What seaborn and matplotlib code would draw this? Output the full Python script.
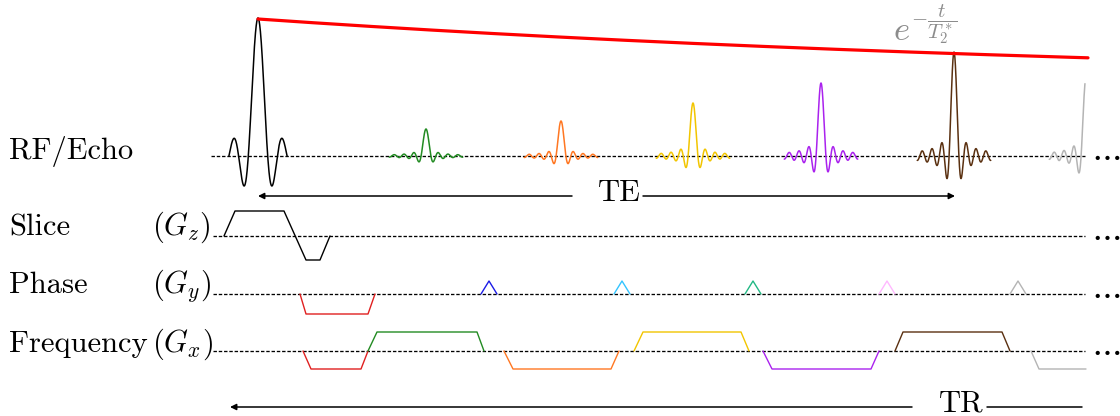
import numpy as np
import pandas as pd
import matplotlib
matplotlib.use("Agg")
import matplotlib.pyplot as plt
import seaborn as sns

# ---------------- data (schematic time / amplitude units) ----------------
row_names = ["RF/Echo", "Slice", "Phase", "Frequency"]
row_axes = ["", r"$(G_z)$", r"$(G_y)$", r"$(G_x)$"]
row_base = [156, 236, 294, 351]

rf_center = 258
rf_amp = 138

echo_centers = [426, 561, 693, 821, 954, 1086]
echo_amps = [27, 35, 53, 73, 104, 78]
echo_colors = ["#228b22", "#ff7722", "#f2c500", "#aa22ee", "#5a3010", "#b4b4b4"]

slice_t = [224, 235, 284, 306, 320, 330]
slice_g = [0, 25, 25, -24, -24, 0]

pe_t = [300, 306, 368, 375]
pe_g = [0, -20, -20, 0]
blip_centers = [489, 622, 753, 887, 1018]
blip_height = 13
blip_colors = ["#1a1ae6", "#33c4ff", "#22b884", "#ffb8ff", "#b4b4b4"]

ro_lobes_t = [[303, 311, 361, 368], [368, 377, 477, 484], [504, 513, 611, 619],
              [634, 643, 741, 749], [763, 772, 871, 879], [895, 903, 1002, 1010],
              [1031, 1039, 1086]]
ro_amps = [-18, 19, -18, 19, -18, 19, -18]
ro_colors = ["#e02020"] + echo_colors

t2_start, t2_end = 258, 1088
t2_tau = 970.0

te_span = [258, 955]
tr_span = [230, 1082]
t_end = 1085

# ---------------- style ----------------
sns.set_theme(style="white")
plt.rcParams["font.family"] = ["cmr10", "DejaVu Serif"]
plt.rcParams["mathtext.fontset"] = "cm"
plt.rcParams["axes.unicode_minus"] = False
plt.rcParams["text.color"] = "black"

fig = plt.figure(figsize=(11.2, 4.16), dpi=100)
ax = fig.add_axes([0, 0, 1, 1])
ax.set_xlim(0, 1120)
ax.set_ylim(416, 0)
ax.axis("off")

FS = 22
LW = 1.0


def seg(x, y, color, lw=LW, **kw):
    sns.lineplot(x=np.asarray(x, float), y=np.asarray(y, float), color=color, lw=lw,
                 sort=False, estimator=None, ax=ax, legend=False, **kw)


# baselines
for i, base in enumerate(row_base):
    x0 = 211 if i == 0 else 213
    seg([x0, t_end], [base, base], "black", lw=0.95, dashes=(2.6, 1.4))
    ax.text(1091, base + 8, r"$\cdots$", fontsize=FS + 2, color="black", va="baseline", ha="left")

# labels
label_base = [159, 235, 293, 352]
for name, axn, yb in zip(row_names, row_axes, label_base):
    ax.text(9, yb, name, fontsize=FS, va="baseline", ha="left", color="black")
    if axn:
        ax.text(152, yb, axn, fontsize=FS, va="baseline", ha="left", color="black")

# RF pulse
u = np.linspace(-3, 3, 400)
seg(rf_center + u * 9.7, row_base[0] - rf_amp * np.sinc(u), "black", lw=1.1)

# echoes
for c, a, col in zip(echo_centers, echo_amps, echo_colors):
    u = np.linspace(-7.5, 7.5, 600)
    x = c + u * 4.9
    m = x <= t_end
    seg(x[m], row_base[0] - a * np.sinc(u[m]), col, lw=1.1)

# T2* envelope
xt = np.linspace(t2_start, t2_end, 300)
seg(xt, 86.5 - 67.5 * np.exp(-(xt - t2_start) / t2_tau), "#ff0000", lw=2.3)
ax.text(893, 40, r"$e$", fontsize=25, color="#8c8c8c", va="baseline", ha="left")
ax.text(911, 2, r"$-\dfrac{t}{T_2^*}$", fontsize=15, color="#8c8c8c", va="top", ha="left")

# slice
seg(slice_t, row_base[1] - np.asarray(slice_g), "black")

# phase
seg(pe_t, row_base[2] - np.asarray(pe_g), "#e02020")
for c, col in zip(blip_centers, blip_colors):
    seg([c - 8, c, c + 8], [row_base[2], row_base[2] - blip_height, row_base[2]], col)

# frequency
for t, a, col in zip(ro_lobes_t, ro_amps, ro_colors):
    g = [0, a, a, 0][:len(t)]
    seg(t, row_base[3] - np.asarray(g), col)

# TE / TR arrows
arrow_kw = dict(arrowstyle="-|>", color="black", lw=1.1, mutation_scale=9,
                shrinkA=0, shrinkB=0)
ax.annotate("", xy=(te_span[0], 196), xytext=(572, 196), arrowprops=arrow_kw)
ax.annotate("", xy=(te_span[1], 196), xytext=(643, 196), arrowprops=arrow_kw)
ax.text(598, 201, "TE", fontsize=FS, va="baseline", ha="left", color="black")

ax.annotate("", xy=(tr_span[0], 407), xytext=(912, 407), arrowprops=arrow_kw)
seg([987, tr_span[1]], [407, 407], "black", lw=1.1)
ax.text(939, 412, "TR", fontsize=FS, va="baseline", ha="left", color="black")

fig.savefig("out.png", dpi=100)
